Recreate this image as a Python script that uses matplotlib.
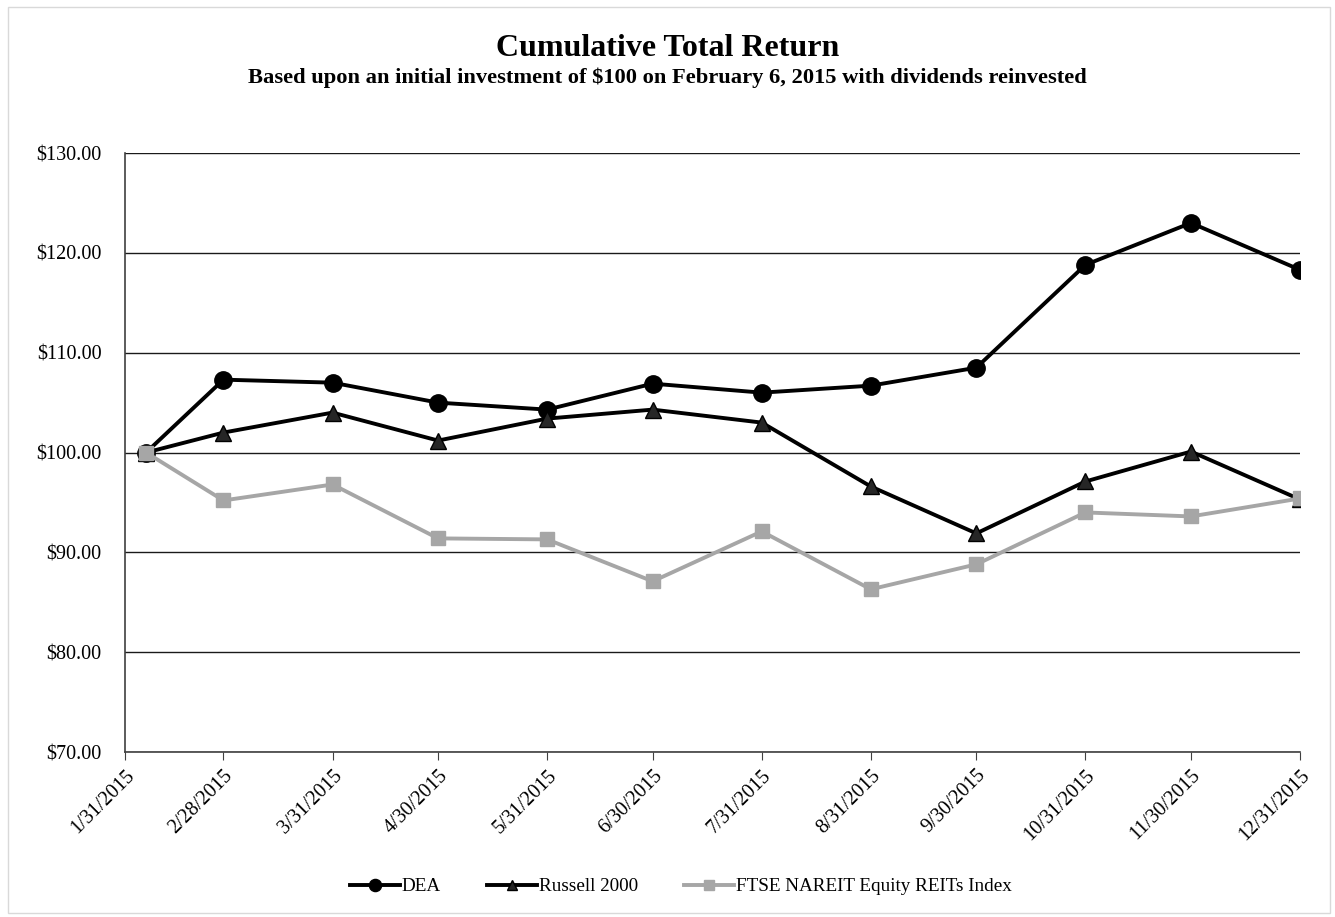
"""Cumulative total return chart: DEA vs Russell 2000 vs FTSE NAREIT Equity REITs."""

import matplotlib

matplotlib.use("Agg")
import matplotlib.dates as mdates  # noqa: E402
import matplotlib.pyplot as plt  # noqa: E402
import pandas as pd  # noqa: E402
from matplotlib.patches import Rectangle  # noqa: E402
from matplotlib.ticker import FuncFormatter, MultipleLocator  # noqa: E402

# --- data -------------------------------------------------------------------
dates = pd.to_datetime([
    "2015-02-06", "2015-02-28", "2015-03-31", "2015-04-30", "2015-05-31",
    "2015-06-30", "2015-07-31", "2015-08-31", "2015-09-30", "2015-10-31",
    "2015-11-30", "2015-12-31",
])
dea = [100.0, 107.3, 107.0, 105.0, 104.3, 106.9, 106.0, 106.7, 108.5, 118.8, 123.0, 118.3]
russell = [100.0, 102.0, 104.0, 101.2, 103.4, 104.3, 103.0, 96.6, 91.9, 97.1, 100.1, 95.3]
ftse = [100.0, 95.2, 96.8, 91.4, 91.3, 87.1, 92.1, 86.3, 88.8, 94.0, 93.6, 95.4]

tick_dates = pd.to_datetime([
    "2015-01-31", "2015-02-28", "2015-03-31", "2015-04-30", "2015-05-31",
    "2015-06-30", "2015-07-31", "2015-08-31", "2015-09-30", "2015-10-31",
    "2015-11-30", "2015-12-31",
])

plt.rcParams["font.family"] = ["Liberation Serif", "DejaVu Serif"]

fig = plt.figure(figsize=(13.35, 9.17), dpi=100)
fig.patches.append(Rectangle((0.006, 0.004), 0.99, 0.988, transform=fig.transFigure,
                             fill=False, edgecolor="#d9d9d9", linewidth=1))
ax = fig.add_axes([0.0936, 0.1799, 0.8802, 0.6532])

ax.plot(dates, dea, color="black", lw=2.8, marker="o", ms=12.5,
        mfc="black", mec="black", label="DEA", zorder=3)
ax.plot(dates, russell, color="black", lw=2.8, marker="^", ms=11,
        mfc="#262626", mec="black", label="Russell 2000", zorder=4)
ax.plot(dates, ftse, color="#a6a6a6", lw=2.8, marker="s", ms=10.5,
        mfc="#a6a6a6", mec="#a6a6a6", label="FTSE NAREIT Equity REITs Index", zorder=5)

ax.set_xlim(tick_dates[0], tick_dates[-1])
ax.set_ylim(70, 130)
ax.yaxis.set_major_locator(MultipleLocator(10))
ax.yaxis.set_major_formatter(FuncFormatter(lambda v, _: f"${v:.2f}"))
ax.grid(axis="y", color="#1a1a1a", lw=1, zorder=0)
ax.set_axisbelow(True)

ax.set_xticks(tick_dates)
ax.xaxis.set_major_formatter(FuncFormatter(
    lambda v, _: f"{mdates.num2date(v).month}/{mdates.num2date(v).day}/{mdates.num2date(v).year}"))
for lbl in ax.get_xticklabels():
    lbl.set_rotation(45)
    lbl.set_ha("right")
    lbl.set_rotation_mode("anchor")

for side in ("top", "right"):
    ax.spines[side].set_visible(False)
for side in ("left", "bottom"):
    ax.spines[side].set_color("#404040")
    ax.spines[side].set_linewidth(1.2)
ax.tick_params(axis="y", length=0, pad=17, labelsize=14.5)
ax.tick_params(axis="x", length=6, direction="out", color="#404040", labelsize=14.5, pad=4)

fig.text(0.5, 0.947, "Cumulative Total Return", ha="center", va="center",
         fontsize=23, fontweight="bold")
fig.text(0.5, 0.915, "Based upon an initial investment of $100 on February 6, 2015 with dividends reinvested",
         ha="center", va="center", fontsize=16.2, fontweight="bold")

fig.legend(loc="center", bbox_to_anchor=(0.51, 0.033), ncol=3, frameon=False,
           fontsize=13.8, handlelength=2.6, columnspacing=2.4, handletextpad=0.1,
           markerscale=0.7)

fig.savefig("out.png", dpi=100)
